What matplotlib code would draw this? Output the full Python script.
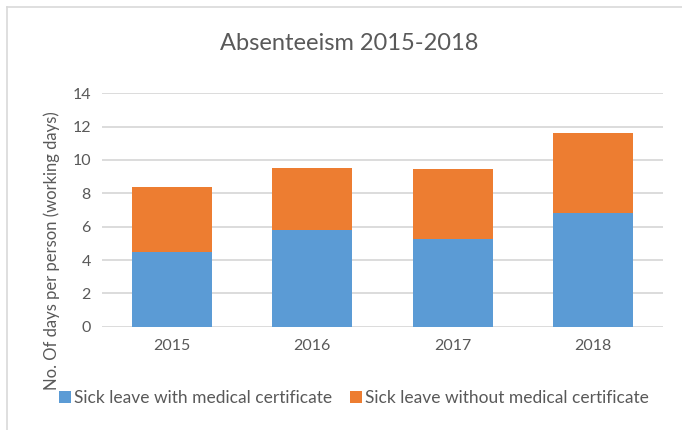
import matplotlib
matplotlib.use("Agg")
from matplotlib import pyplot as plt
from matplotlib.lines import Line2D

# data
years = ['2015', '2016', '2017', '2018']
with_cert = [4.46, 5.78, 5.26, 6.80]
without_cert = [3.90, 3.74, 4.18, 4.80]
series_names = ['Sick leave with medical certificate',
                'Sick leave without medical certificate']

blue = '#5B9BD5'
orange = '#ED7D31'
grey_txt = '#595959'
grid_col = '#d9d9d9'

plt.rcParams['font.family'] = ['Lato', 'DejaVu Sans']

fig = plt.figure(figsize=(6.82, 4.30), dpi=100)
ax = fig.add_axes([102 / 682, 1 - 326.7 / 430, 561 / 682, 233.4 / 430])

x = range(len(years))
ax.bar(x, with_cert, width=0.57, color=blue, label=series_names[0], zorder=3)
ax.bar(x, without_cert, width=0.57, bottom=with_cert, color=orange,
       label=series_names[1], zorder=3)

ax.set_xlim(-0.5, len(years) - 0.5)
ax.set_ylim(0, 14)
ax.set_yticks(range(0, 15, 2))
ax.set_xticks(list(x))
ax.set_xticklabels(years)
ax.yaxis.grid(True, color=grid_col, linewidth=1.3, zorder=0)
ax.set_axisbelow(True)
for s in ax.spines.values():
    s.set_visible(False)
ax.tick_params(length=0, labelsize=11.5, colors=grey_txt, pad=8)
ax.tick_params(axis='x', pad=9)

fig.text(52 / 682, 1 - 251 / 430, 'No. Of days per person (working days)',
         rotation=90, ha='center', va='center', fontsize=12, color=grey_txt)
fig.text(349 / 682, 1 - 44 / 430, 'Absenteeism 2015-2018', ha='center',
         va='center', fontsize=17, color=grey_txt)

leg = fig.legend(loc='center', bbox_to_anchor=(354 / 682, 1 - 398 / 430),
                 ncol=2, frameon=False, fontsize=12.5, handlelength=0.7,
                 handleheight=0.7, handletextpad=0.2, columnspacing=1.0)
for t in leg.get_texts():
    t.set_color(grey_txt)

# chart frame (only top and left edge visible in the crop)
fig.add_artist(Line2D([7 / 682, 7 / 682], [0, 1 - 6.5 / 430],
                      transform=fig.transFigure, color=grid_col, lw=1.2))
fig.add_artist(Line2D([7 / 682, 1], [1 - 6.5 / 430, 1 - 6.5 / 430],
                      transform=fig.transFigure, color=grid_col, lw=1.2))

fig.savefig('out.png', dpi=100, facecolor='white')
